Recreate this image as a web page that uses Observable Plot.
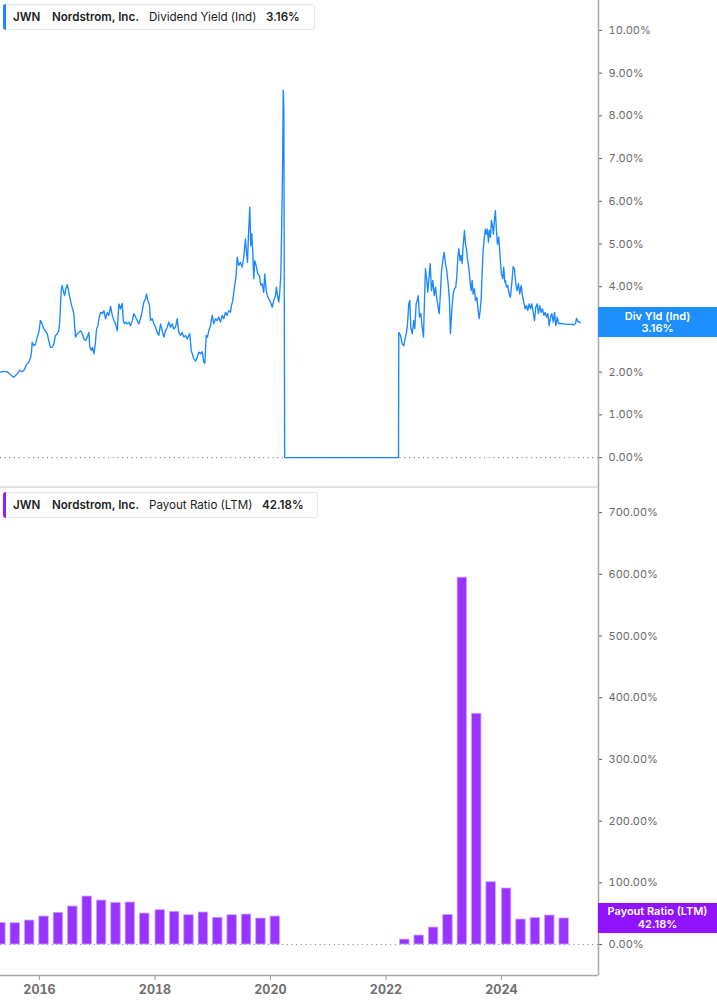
<!DOCTYPE html>
<html>
<head>
<meta charset="utf-8">
<script src="https://cdn.jsdelivr.net/npm/d3@7"></script>
<script src="https://cdn.jsdelivr.net/npm/@observablehq/plot@0.6"></script>
<style>
  body { margin: 0; background: #fff; font-family: Inter, "Noto Sans", sans-serif; }
  #wrap { position: relative; width: 717px; height: 1005px; overflow: hidden; background: #fff; }
  .panel { position: absolute; left: 0; }
  .legend { position: absolute; left: 3px; height: 24px; background: #fff; border: 1px solid #e6e6e6; border-radius: 3px; box-sizing: border-box; font-size: 11.6px; color: #222; }
  .legend span { position: absolute; top: 0; line-height: 24px; white-space: nowrap; }
  .b { font-weight: 600; }
  .sep { position: absolute; left: 0; width: 598px; height: 2px; background: #e2e2e2; }
  .tag { position: absolute; left: 598px; width: 119px; height: 30px; color: #fff; font-size: 11px; font-weight: 600; text-align: center; line-height: 12.5px; box-sizing: border-box; padding-top: 2.5px; }
</style>
</head>
<body>
<div id="wrap"></div>
<script>
// ---- Data ----
// Dividend yield (Ind), %, by fractional year
const yieldYear = [2015.325,2015.382,2015.441,2015.498,2015.555,2015.614,2015.659,2015.701,2015.741,2015.775,2015.815,2015.845,2015.862,2015.874,2015.902,2015.931,2015.961,2015.988,2016.018,2016.047,2016.075,2016.104,2016.134,2016.161,2016.191,2016.220,2016.248,2016.277,2016.307,2016.335,2016.352,2016.376,2016.393,2016.411,2016.433,2016.456,2016.480,2016.503,2016.525,2016.549,2016.572,2016.594,2016.606,2016.624,2016.653,2016.681,2016.710,2016.740,2016.767,2016.797,2016.826,2016.854,2016.871,2016.896,2016.918,2016.941,2016.965,2016.987,2017.010,2017.034,2017.057,2017.086,2017.114,2017.143,2017.173,2017.200,2017.230,2017.259,2017.287,2017.316,2017.346,2017.374,2017.403,2017.432,2017.450,2017.472,2017.495,2017.519,2017.547,2017.576,2017.606,2017.633,2017.663,2017.692,2017.720,2017.749,2017.779,2017.806,2017.836,2017.853,2017.876,2017.905,2017.922,2017.952,2017.980,2018.009,2018.038,2018.066,2018.096,2018.125,2018.153,2018.182,2018.212,2018.239,2018.269,2018.298,2018.326,2018.355,2018.385,2018.412,2018.442,2018.471,2018.499,2018.529,2018.558,2018.586,2018.603,2018.627,2018.645,2018.672,2018.702,2018.731,2018.759,2018.788,2018.818,2018.845,2018.863,2018.887,2018.909,2018.932,2018.961,2018.991,2019.019,2019.048,2019.077,2019.105,2019.135,2019.164,2019.192,2019.221,2019.251,2019.278,2019.308,2019.325,2019.348,2019.365,2019.382,2019.406,2019.424,2019.451,2019.481,2019.510,2019.538,2019.567,2019.585,2019.602,2019.619,2019.642,2019.659,2019.677,2019.694,2019.711,2019.728,2019.753,2019.780,2019.810,2019.832,2019.857,2019.884,2019.902,2019.926,2019.948,2019.971,2020.000,2020.030,2020.058,2020.087,2020.104,2020.122,2020.144,2020.161,2020.179,2020.196,2020.212,2020.222,2020.232,2020.246,2022.217,2022.222,2022.251,2022.281,2022.309,2022.338,2022.355,2022.373,2022.395,2022.412,2022.430,2022.454,2022.482,2022.499,2022.523,2022.541,2022.558,2022.580,2022.603,2022.627,2022.650,2022.667,2022.684,2022.707,2022.724,2022.742,2022.766,2022.788,2022.811,2022.835,2022.858,2022.880,2022.904,2022.922,2022.944,2022.961,2022.984,2023.008,2023.031,2023.053,2023.077,2023.100,2023.117,2023.140,2023.164,2023.187,2023.209,2023.226,2023.244,2023.261,2023.285,2023.303,2023.320,2023.337,2023.360,2023.377,2023.394,2023.412,2023.434,2023.458,2023.476,2023.493,2023.510,2023.533,2023.550,2023.573,2023.597,2023.614,2023.632,2023.649,2023.666,2023.683,2023.706,2023.723,2023.741,2023.758,2023.775,2023.793,2023.810,2023.827,2023.845,2023.862,2023.879,2023.896,2023.914,2023.931,2023.954,2023.978,2024.000,2024.023,2024.040,2024.058,2024.070,2024.087,2024.109,2024.134,2024.156,2024.179,2024.203,2024.225,2024.248,2024.272,2024.295,2024.317,2024.342,2024.364,2024.387,2024.411,2024.433,2024.456,2024.480,2024.503,2024.525,2024.549,2024.572,2024.594,2024.619,2024.641,2024.664,2024.688,2024.710,2024.733,2024.757,2024.780,2024.802,2024.826,2024.849,2024.871,2024.896,2024.918,2024.941,2024.965,2024.987,2025.022,2025.079,2025.138,2025.195,2025.252,2025.282,2025.299,2025.322,2025.346,2025.368];
const yieldValue = [2.00,2.02,2.01,1.94,1.88,1.96,2.04,2.01,2.06,2.18,2.23,2.33,2.47,2.70,2.62,2.65,2.82,2.93,3.21,3.13,3.01,2.97,2.90,2.74,2.58,2.58,2.66,2.86,2.90,2.97,3.21,3.91,4.03,3.91,3.79,3.95,4.05,3.91,3.75,3.60,3.48,3.37,3.13,2.82,2.90,2.93,2.97,2.90,2.78,2.74,2.82,2.93,2.58,2.51,2.58,2.43,2.66,3.01,3.09,3.29,3.40,3.37,3.44,3.25,3.40,3.33,3.54,3.33,3.21,3.13,2.97,3.60,3.48,3.61,3.21,3.13,3.17,3.13,3.17,3.09,3.21,3.37,3.29,3.21,3.13,3.25,3.44,3.64,3.72,3.83,3.68,3.56,3.21,3.25,3.13,3.05,2.93,2.86,3.13,2.97,2.82,2.97,3.05,3.17,3.05,3.13,3.01,3.05,3.25,2.93,2.86,2.93,2.82,2.86,2.78,2.86,2.90,2.51,2.43,2.31,2.26,2.35,2.47,2.43,2.48,2.23,2.21,2.86,2.82,2.97,3.09,3.33,3.13,3.25,3.21,3.29,3.17,3.33,3.25,3.40,3.33,3.44,3.40,3.56,3.68,3.87,4.03,4.26,4.69,4.50,4.57,4.46,4.69,5.12,4.81,4.57,5.20,5.86,4.96,5.24,4.81,4.19,4.61,4.50,4.30,4.26,4.03,4.07,3.87,4.30,3.91,3.79,3.72,3.64,3.52,3.68,3.79,3.99,3.79,3.64,3.87,4.26,5.51,7.00,8.60,8.20,0.00,0.00,2.93,2.86,2.66,2.62,2.82,2.93,3.13,3.60,3.68,3.05,2.90,3.21,3.02,3.60,3.68,3.79,3.29,3.37,3.05,2.82,3.68,4.42,4.15,3.87,4.15,4.54,3.91,4.15,3.79,3.99,3.72,3.52,3.37,3.87,4.34,4.61,4.81,4.54,4.38,4.07,3.68,2.90,3.44,3.83,3.95,3.99,4.22,4.65,4.89,4.61,4.73,4.54,4.96,5.32,5.00,4.89,4.65,4.46,4.11,3.91,4.15,3.83,3.95,3.68,3.75,3.44,3.25,3.44,3.72,4.30,4.85,5.16,5.35,5.23,5.35,5.04,5.32,5.16,5.55,5.43,5.23,5.55,5.78,5.32,5.00,5.16,4.69,4.30,4.19,4.46,4.11,4.15,3.99,4.03,3.83,3.75,4.07,4.47,4.42,4.07,3.91,4.07,3.83,4.03,3.79,3.64,3.48,3.56,3.44,3.60,3.48,3.60,3.40,3.21,3.52,3.60,3.37,3.56,3.40,3.48,3.33,3.40,3.29,3.37,3.09,3.29,3.37,3.17,3.40,3.09,3.29,3.14,3.14,3.13,3.12,3.12,3.11,3.14,3.26,3.19,3.17,3.16];

// Payout ratio (LTM), %, by fiscal quarter end
const payoutDates = ["2015-05-02","2015-08-01","2015-10-31","2016-01-30","2016-04-30","2016-07-30","2016-10-29","2017-01-28","2017-04-29","2017-07-29","2017-10-28","2018-02-03","2018-05-05","2018-08-04","2018-11-03","2019-02-02","2019-05-04","2019-08-03","2019-11-02","2020-02-01","2022-04-30","2022-07-30","2022-10-29","2023-01-28","2023-04-29","2023-07-29","2023-10-28","2024-02-03","2024-05-04","2024-08-03","2024-11-02","2025-02-01"];
const payoutValues = [35.0,34.5,38.9,45.4,51.4,61.6,77.8,71.3,67.6,68.1,50.2,55.6,53.0,47.5,51.9,43.3,47.5,48.6,42.1,45.4,8.0,14.6,27.5,48.0,594.6,374.0,101.0,90.8,40.5,43.0,47.0,42.18];

const yieldTicks = [0,1,2,3,4,5,6,7,8,9,10];
const payoutTicks = [0,100,200,300,400,500,600,700];
const yearTicks = ["2016","2018","2020","2022","2024"];

const ticker = "JWN", company = "Nordstrom, Inc.";
const yieldLabel = "Dividend Yield (Ind)", yieldLast = 3.16, yieldTag = "Div Yld (Ind)";
const payoutLabel = "Payout Ratio (LTM)", payoutLast = 42.18, payoutTag = "Payout Ratio (LTM)";

// ---- Build ----
function fromDecimal(t) {
  const y = Math.floor(t);
  const a = Date.UTC(y, 0, 1), b = Date.UTC(y + 1, 0, 1);
  return new Date(a + (t - y) * (b - a));
}
const yieldData = yieldYear.map((t, i) => ({date: fromDecimal(t), value: yieldValue[i]}));
const payoutData = payoutDates.map((d, i) => ({date: new Date(d + "T00:00:00Z"), value: payoutValues[i]}));

const xDomain = [fromDecimal(2015.325), fromDecimal(2025.68)];
const blue = "#1a88ff", purple = "#9933ff";
const pct = d => d.toFixed(2) + "%";
const dotted = {stroke: "#808080", strokeDasharray: "1,3.7", strokeWidth: 1.1};
const common = {width: 717, marginLeft: 0, marginRight: 119, marginTop: 0,
  style: {fontFamily: "Inter, 'Noto Sans', sans-serif", background: "transparent", overflow: "visible"}};

const yDom1 = [-0.70, 10.70];
const topChart = Plot.plot({
  ...common, height: 487, marginBottom: 0,
  x: {type: "utc", domain: xDomain, axis: null},
  y: {domain: yDom1, axis: null},
  marks: [
    Plot.ruleY([0], dotted),
    Plot.lineY(yieldData, {x: "date", y: "value", stroke: blue, strokeWidth: 1.35, clip: true}),
    Plot.axisY({anchor: "right", label: null, ticks: yieldTicks, tickFormat: pct, tickSize: 3, tickPadding: 7, fontSize: 11, fill: "#6a6a6a", stroke: "#555"}),
    Plot.ruleX([xDomain[1]], {stroke: "#a8a8a8", strokeWidth: 1.5})
  ]
});

const yDom2 = [-50.2, 740.7];
const botChart = Plot.plot({
  ...common, height: 518, marginBottom: 30,
  x: {type: "utc", domain: xDomain, axis: null},
  y: {domain: yDom2, axis: null},
  marks: [
    Plot.ruleY([0], dotted),
    Plot.rectY(payoutData, {x1: d => d3.utcDay.offset(d.date, -30), x2: d => d3.utcDay.offset(d.date, 30), y: "value", fill: purple, stroke: "#cfa3ff", strokeWidth: 0.8, clip: true}),
    Plot.axisY({anchor: "right", label: null, ticks: payoutTicks, tickFormat: pct, tickSize: 3, tickPadding: 7, fontSize: 11, fill: "#6a6a6a", stroke: "#555"}),
    Plot.axisX({label: null, ticks: yearTicks.map(y => new Date(Date.UTC(+y, 0, 1))), tickFormat: d => String(d.getUTCFullYear()), tickSize: 5, tickPadding: 5, fontSize: 12.5, fontWeight: "bold", fill: "#6f6f6f", stroke: "#999"}),
    Plot.ruleX([xDomain[1]], {stroke: "#a8a8a8", strokeWidth: 1.5}),
    Plot.ruleY([yDom2[0]], {stroke: "#a8a8a8", strokeWidth: 1.5})
  ]
});

const wrap = document.getElementById("wrap");
topChart.classList.add("panel"); topChart.style.top = "0px";
botChart.classList.add("panel"); botChart.style.top = "487px";
wrap.appendChild(topChart);
wrap.appendChild(botChart);

const sep = document.createElement("div");
sep.className = "sep"; sep.style.top = "486px";
wrap.appendChild(sep);

function legend(top, color, label, last, width, pos) {
  const el = document.createElement("div");
  el.className = "legend";
  el.style.top = top + "px";
  el.style.width = width + "px";
  el.style.height = "26px";
  el.innerHTML =
    `<div style="position:absolute;left:-1px;top:-1px;bottom:-1px;width:3px;background:${color};border-radius:3px 0 0 3px"></div>` +
    `<span class="b" style="left:${pos[0]}px">${ticker}</span>` +
    `<span class="b" style="left:${pos[1]}px">${company}</span>` +
    `<span style="left:${pos[2]}px">${label}</span>` +
    `<span class="b" style="left:${pos[3]}px">${last.toFixed(2)}%</span>`;
  wrap.appendChild(el);
}
legend(4, blue, yieldLabel, yieldLast, 312, [9, 48, 145, 262]);
legend(492, "#8f1fff", payoutLabel, payoutLast, 315, [9, 48, 145, 258]);

function tag(chart, offset, value, label, color) {
  const cy = chart.scale("y").apply(value) + offset;
  const el = document.createElement("div");
  el.className = "tag";
  el.style.top = (cy - 15) + "px";
  el.style.background = color;
  el.innerHTML = `${label}<br>${value.toFixed(2)}%`;
  wrap.appendChild(el);
}
tag(topChart, 0, yieldLast, yieldTag, "#1f8fff");
tag(botChart, 487, payoutLast, payoutTag, "#9012fe");
</script>
</body>
</html>
